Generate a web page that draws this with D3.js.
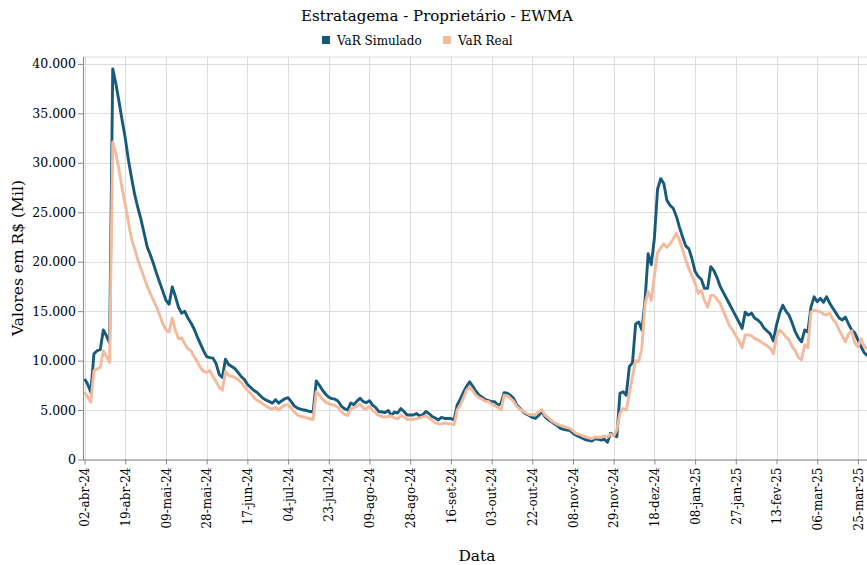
<!DOCTYPE html>
<html><head><meta charset="utf-8">
<script src="https://cdn.jsdelivr.net/npm/d3@7"></script>
<style>
html,body{margin:0;padding:0;background:#fff;overflow:hidden;}
svg{display:block;font-family:"DejaVu Serif",serif;}
</style></head>
<body><svg id="chart" width="867" height="565"></svg>
<script>
const titleText = "Estratagema - Proprietário - EWMA";
const seriesNames = ["VaR Simulado", "VaR Real"];
const seriesColors = ["#175a7b", "#f5b99c"];

const dates = [
"02-abr-24","03-abr-24","04-abr-24","05-abr-24","08-abr-24","09-abr-24","10-abr-24","11-abr-24","12-abr-24","15-abr-24","16-abr-24","17-abr-24","18-abr-24","19-abr-24","22-abr-24","23-abr-24","24-abr-24","25-abr-24","26-abr-24","29-abr-24","30-abr-24",
"02-mai-24","03-mai-24","06-mai-24","07-mai-24","08-mai-24","09-mai-24","10-mai-24","13-mai-24","14-mai-24","15-mai-24","16-mai-24","17-mai-24","20-mai-24","21-mai-24","22-mai-24","23-mai-24","24-mai-24","27-mai-24","28-mai-24","29-mai-24","31-mai-24",
"03-jun-24","04-jun-24","05-jun-24","06-jun-24","07-jun-24","10-jun-24","11-jun-24","12-jun-24","13-jun-24","14-jun-24","17-jun-24","18-jun-24","19-jun-24","20-jun-24","21-jun-24","24-jun-24","25-jun-24","26-jun-24","27-jun-24","28-jun-24",
"01-jul-24","02-jul-24","03-jul-24","04-jul-24","05-jul-24","08-jul-24","09-jul-24","10-jul-24","11-jul-24","12-jul-24","15-jul-24","16-jul-24","17-jul-24","18-jul-24","19-jul-24","22-jul-24","23-jul-24","24-jul-24","25-jul-24","26-jul-24","29-jul-24","30-jul-24","31-jul-24",
"01-ago-24","02-ago-24","05-ago-24","06-ago-24","07-ago-24","08-ago-24","09-ago-24","12-ago-24","13-ago-24","14-ago-24","15-ago-24","16-ago-24","19-ago-24","20-ago-24","21-ago-24","22-ago-24","23-ago-24","26-ago-24","27-ago-24","28-ago-24","29-ago-24","30-ago-24",
"02-set-24","03-set-24","04-set-24","05-set-24","06-set-24","09-set-24","10-set-24","11-set-24","12-set-24","13-set-24","16-set-24","17-set-24","18-set-24","19-set-24","20-set-24","23-set-24","24-set-24","25-set-24","26-set-24","27-set-24","30-set-24",
"01-out-24","02-out-24","03-out-24","04-out-24","07-out-24","08-out-24","09-out-24","10-out-24","11-out-24","14-out-24","15-out-24","16-out-24","17-out-24","18-out-24","21-out-24","22-out-24","23-out-24","24-out-24","25-out-24","28-out-24","29-out-24","30-out-24","31-out-24",
"01-nov-24","04-nov-24","05-nov-24","06-nov-24","07-nov-24","08-nov-24","11-nov-24","12-nov-24","13-nov-24","14-nov-24","18-nov-24","19-nov-24","21-nov-24","22-nov-24","25-nov-24","26-nov-24","27-nov-24","28-nov-24","29-nov-24",
"02-dez-24","03-dez-24","04-dez-24","05-dez-24","06-dez-24","09-dez-24","10-dez-24","11-dez-24","12-dez-24","13-dez-24","16-dez-24","17-dez-24","18-dez-24","19-dez-24","20-dez-24","23-dez-24","24-dez-24","26-dez-24","27-dez-24","30-dez-24","31-dez-24",
"02-jan-25","03-jan-25","06-jan-25","07-jan-25","08-jan-25","09-jan-25","10-jan-25","13-jan-25","14-jan-25","15-jan-25","16-jan-25","17-jan-25","20-jan-25","21-jan-25","22-jan-25","23-jan-25","24-jan-25","27-jan-25","28-jan-25","29-jan-25","30-jan-25","31-jan-25",
"03-fev-25","04-fev-25","05-fev-25","06-fev-25","07-fev-25","10-fev-25","11-fev-25","12-fev-25","13-fev-25","14-fev-25","17-fev-25","18-fev-25","19-fev-25","20-fev-25","21-fev-25","24-fev-25","25-fev-25","26-fev-25","27-fev-25","28-fev-25",
"05-mar-25","06-mar-25","07-mar-25","10-mar-25","11-mar-25","12-mar-25","13-mar-25","14-mar-25","17-mar-25","18-mar-25","19-mar-25","20-mar-25","21-mar-25","24-mar-25","25-mar-25","26-mar-25","27-mar-25","28-mar-25"
];

const varSimulado = [
8150,7600,6800,10700,11000,11100,13100,12500,11800,39500,
38000,36200,34300,32500,30300,28500,26800,25500,24300,22900,
21500,20700,19800,18800,17900,17000,16100,15700,17450,16500,
15400,14800,15000,14300,13800,13200,12400,11700,11000,10400,
10300,10250,9700,8600,8300,10150,9600,9400,9200,8800,
8400,8100,7600,7300,7000,6800,6500,6200,6000,5850,
5700,6050,5700,5950,6150,6250,5850,5400,5200,5100,
5000,4950,4850,4800,7950,7500,7000,6600,6300,6150,
6100,5900,5400,5150,5000,5700,5550,5900,6200,5850,
5750,5950,5500,5250,4850,4800,4750,4950,4450,4800,
4700,5150,4850,4500,4500,4500,4650,4400,4500,4850,
4650,4350,4200,4000,4250,4150,4150,4150,4000,5500,
6100,6800,7400,7850,7400,6900,6500,6300,6050,5950,
5850,5850,5500,5650,6750,6700,6500,6200,5550,5200,
4850,4600,4450,4250,4150,4450,4850,4350,4050,3850,
3600,3400,3150,3050,2980,2950,2650,2450,2300,2150,
2000,1950,1870,2100,2050,1950,2050,1750,2650,2450,
2300,6700,6850,6500,9400,9800,13700,13900,13100,16100,
20800,19700,22400,27300,28400,27900,26200,25700,25400,24600,
23500,22500,21600,21300,20300,19000,18500,18200,17300,17300,
19500,19100,18400,17500,16900,16300,15700,15100,14500,13900,
13250,14900,14600,14800,14300,14100,13800,13300,13000,12700,
12000,13600,14800,15600,15000,14600,13800,12900,12300,11900,
13100,12900,15400,16450,15950,16300,15900,16450,15800,15300,
14800,14300,14100,14400,13700,13100,12800,12100,11400,10800,
10500
];

const varReal = [
6800,6300,5800,9000,9150,9300,11000,10400,9800,32100,
30900,29300,27400,25800,24000,22300,21300,20200,19300,18400,
17500,16800,16100,15400,14600,13700,13100,12900,14300,13100,
12200,12300,11700,11200,11000,10400,9900,9300,8900,8800,
9000,8400,7900,7300,7000,8900,8500,8400,8300,8100,
7800,7400,7000,6700,6300,6000,5850,5600,5400,5200,
5100,5250,5000,5300,5500,5550,5200,4800,4500,4350,
4300,4200,4100,4050,6850,6500,6100,5800,5650,5550,
5450,5250,4850,4550,4450,5100,5250,5400,5600,5200,
5100,5400,4950,4700,4450,4350,4300,4350,4400,4200,
4100,4450,4300,4050,4100,4050,4150,4200,4300,4400,
4200,3950,3700,3600,3600,3700,3620,3600,3500,5000,
5500,6200,7000,7350,6950,6500,6250,6100,5900,5850,
5600,5450,5300,5000,6500,6450,6200,5900,5400,5100,
4900,4700,4550,4500,4550,4800,5050,4500,4250,3950,
3750,3550,3450,3350,3250,3150,2900,2650,2550,2400,
2300,2200,2100,2250,2250,2250,2400,2250,2550,2400,
3000,4700,5150,5000,6700,8400,10000,9900,11300,15700,
17000,16100,18600,20900,21400,21800,21450,21800,22300,22850,
22200,21200,20200,19300,18600,17800,16800,17100,16100,15400,
16600,16600,16200,15800,15000,14300,13500,13100,12500,12000,
11300,12600,12600,12500,12250,12100,11900,11700,11500,11250,
10700,12400,13100,12800,12400,12100,11400,11000,10300,10100,
11600,11300,14900,15100,15000,14950,14700,14600,14800,14200,
13800,13100,12500,11900,12700,13000,11800,11400,12200,11500,
11100
];

const xTickLabels = ["02-abr-24","19-abr-24","09-mai-24","28-mai-24","17-jun-24","04-jul-24","23-jul-24","09-ago-24","28-ago-24","16-set-24","03-out-24","22-out-24","08-nov-24","29-nov-24","18-dez-24","08-jan-25","27-jan-25","13-fev-25","06-mar-25","25-mar-25"];
const yTicks = [0,5000,10000,15000,20000,25000,30000,35000,40000];
const yMax = 40750;
const xTitle = "Data";
const yTitle = "Valores em R$ (Mil)";

const svg = d3.select("#chart");
const plotLeft = 83, plotTop = 56.5, plotBottom = 459.5;
const step = 3.131;
const plotRight = plotLeft + dates.length * step;

const x = d3.scalePoint().domain(dates).range([plotLeft, plotRight]).padding(0.5);
const y = d3.scaleLinear().domain([0, yMax]).range([plotBottom, plotTop]);

const loc = d3.formatLocale({decimal: ",", thousands: ".", grouping: [3], currency: ["R$", ""]});
const fmt = loc.format(",.0f");

// grid
const grid = svg.append("g");
grid.selectAll("line.h").data(yTicks).join("line")
  .attr("x1", plotLeft).attr("x2", plotRight)
  .attr("y1", d => Math.round(y(d)) + 0.5).attr("y2", d => Math.round(y(d)) + 0.5)
  .attr("stroke", "#dddddd").attr("stroke-width", 1);
grid.selectAll("line.v").data(xTickLabels).join("line")
  .attr("x1", d => Math.round(x(d)) + 0.5).attr("x2", d => Math.round(x(d)) + 0.5)
  .attr("y1", plotTop).attr("y2", plotBottom)
  .attr("stroke", "#dddddd").attr("stroke-width", 1);
grid.append("line").attr("x1", plotLeft).attr("x2", plotRight).attr("y1", plotTop + 0.5).attr("y2", plotTop + 0.5)
  .attr("stroke", "#dddddd");

// lines
const series = [varSimulado, varReal];
const line = d3.line().x((d, i) => x(dates[i])).y(d => y(d));
series.forEach((s, k) => {
  svg.append("path").datum(s)
    .attr("fill", "none").attr("stroke", seriesColors[k])
    .attr("stroke-width", 2.9).attr("stroke-linejoin", "round")
    .attr("d", line);
});

// axes
const xAxis = svg.append("g").attr("transform", `translate(0,${plotBottom})`)
  .call(d3.axisBottom(x).tickValues(xTickLabels).tickSize(5).tickSizeOuter(0));
xAxis.select(".domain").attr("stroke", "#888");
xAxis.selectAll(".tick line").attr("stroke", "#888");
xAxis.selectAll(".tick text")
  .attr("font-family", "DejaVu Serif").attr("font-size", 12).attr("fill", "#000")
  .attr("transform", "rotate(-90)").attr("text-anchor", "end")
  .attr("x", -8).attr("y", 0).attr("dy", "0.35em");

const yAxis = svg.append("g").attr("transform", `translate(${plotLeft},0)`)
  .call(d3.axisLeft(y).tickValues(yTicks).tickFormat(fmt).tickSize(5).tickSizeOuter(0));
yAxis.select(".domain").attr("stroke", "#888");
yAxis.selectAll(".tick line").attr("stroke", "#888");
yAxis.selectAll(".tick text").attr("font-family", "DejaVu Serif").attr("font-size", 12.5).attr("fill", "#000").attr("x", -7);

// titles
svg.append("text").attr("x", 437).attr("y", 21).attr("text-anchor", "middle")
  .attr("font-size", 15).attr("fill", "#000").text(titleText);
svg.append("text").attr("x", 477).attr("y", 561).attr("text-anchor", "middle")
  .attr("font-size", 15.5).attr("fill", "#000").text(xTitle);
svg.append("text").attr("transform", `translate(23,${(plotTop + plotBottom) / 2}) rotate(-90)`)
  .attr("text-anchor", "middle").attr("font-size", 15.5).attr("fill", "#000").text(yTitle);

// legend
const legendX = [322, 443];
const lg = svg.append("g");
seriesNames.forEach((n, k) => {
  lg.append("rect").attr("x", legendX[k]).attr("y", 36).attr("width", 8).attr("height", 8)
    .attr("fill", seriesColors[k]);
  lg.append("text").attr("x", legendX[k] + 15).attr("y", 44.5)
    .attr("font-size", 12).attr("fill", "#000").text(n);
});
</script></body></html>
